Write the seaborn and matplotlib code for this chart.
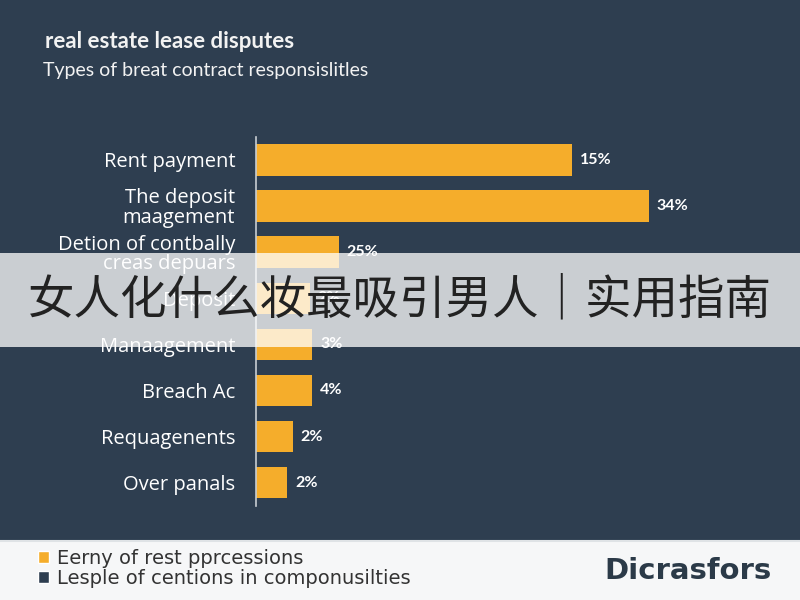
import numpy as np
import pandas as pd
import matplotlib
matplotlib.use("Agg")
import matplotlib.pyplot as plt
import seaborn as sns
from matplotlib.patches import Rectangle, Patch

# data (bar lengths) + the printed labels
categories = ["Rent payment", "The deposit\nmaagement", "Detion of contbally\ncreas depuars",
              "Deposit", "Manaagement", "Breach Ac", "Requagenents", "Over panals"]
values = [24.1, 30.0, 6.3, 4.1, 4.3, 4.3, 2.8, 2.4]
value_labels = ["15%", "34%", "25%", "2%", "3%", "4%", "2%", "2%"]
legend_labels = ["Eerny of rest pprcessions", "Lesple of centions in componusilties"]

bg = "#2e3e50"
orange = "#f5ad2b"

sns.set_theme(style="white")
plt.rcParams['font.family'] = ['Lato', 'DejaVu Sans']

fig = plt.figure(figsize=(8, 6), dpi=100, facecolor=bg)
ax = fig.add_axes([0.32, 0.157, 0.655, 0.615])
ax.set_facecolor(bg)

df = pd.DataFrame({"cat": categories, "val": values})
sns.barplot(data=df, x="val", y="cat", color=orange, width=0.68, saturation=1,
            linewidth=0, ax=ax)

ax.set_xlim(0, 40)
ax.set_ylim(7.5, -0.5)
ax.set_xlabel("")
ax.set_ylabel("")
ax.set_xticks([])
ax.set_yticks(range(len(categories)))
ax.set_yticklabels(categories, color="white", fontsize=14.5, linespacing=0.95,
                   family=['Open Sans', 'DejaVu Sans'])
ax.tick_params(axis="y", which="major", length=0, pad=15)
ax.set_yticks(np.arange(-0.5, len(categories)), minor=True)
ax.tick_params(axis="y", which="minor", length=5, width=1.2, color="#c8cdd2", direction="out")
for s in ["top", "right", "bottom"]:
    ax.spines[s].set_visible(False)
ax.spines["left"].set_color("#c8cdd2")
ax.spines["left"].set_linewidth(1.2)

for i, (v, lab) in enumerate(zip(values, value_labels)):
    ax.text(v + 0.6, i, lab, color="white", fontsize=11.5, fontweight="bold", va="center", ha="left")

# titles
fig.text(0.056, 0.93, "real estate lease disputes", color="#f2f2f2", fontsize=16,
         fontweight="bold", va="center", ha="left")
fig.text(0.054, 0.882, "Types of breat contract responsislitles", color="#f2f2f2", fontsize=14,
         va="center", ha="left")

# bottom light strip
fig.patches.append(Rectangle((0, 0), 1, 0.098, transform=fig.transFigure,
                             facecolor="#f6f7f8", edgecolor="none", zorder=0.5))
fig.lines.append(plt.Line2D([0, 1], [0.098, 0.098], transform=fig.transFigure,
                            color="#dfe3e6", lw=1.5, zorder=0.6))

handles = [Patch(facecolor=orange), Patch(facecolor=bg)]
leg = fig.legend(handles, legend_labels, loc="center left", bbox_to_anchor=(0.025, 0.053),
                 frameon=False, prop={"family": "DejaVu Sans", "size": 14},
                 handlelength=0.6, handleheight=0.6,
                 handletextpad=0.4, labelspacing=0.05, labelcolor="#333333")
fig.text(0.965, 0.048, "Dicrasfors", color="#2b3a48", fontsize=21, fontweight="bold",
         ha="right", va="center", family="DejaVu Sans")

# overlay banner
fig.patches.append(Rectangle((0, 0.422), 1, 0.157, transform=fig.transFigure,
                             facecolor="white", alpha=0.75, edgecolor="none", zorder=5))
fig.text(0.5, 0.5, "女人化什么妆最吸引男人｜实用指南", color="#222222", fontsize=33.5,
         ha="center", va="center", zorder=6, family=['Noto Sans CJK SC', 'DejaVu Sans'])

fig.savefig("out.png", dpi=100, facecolor=bg)
